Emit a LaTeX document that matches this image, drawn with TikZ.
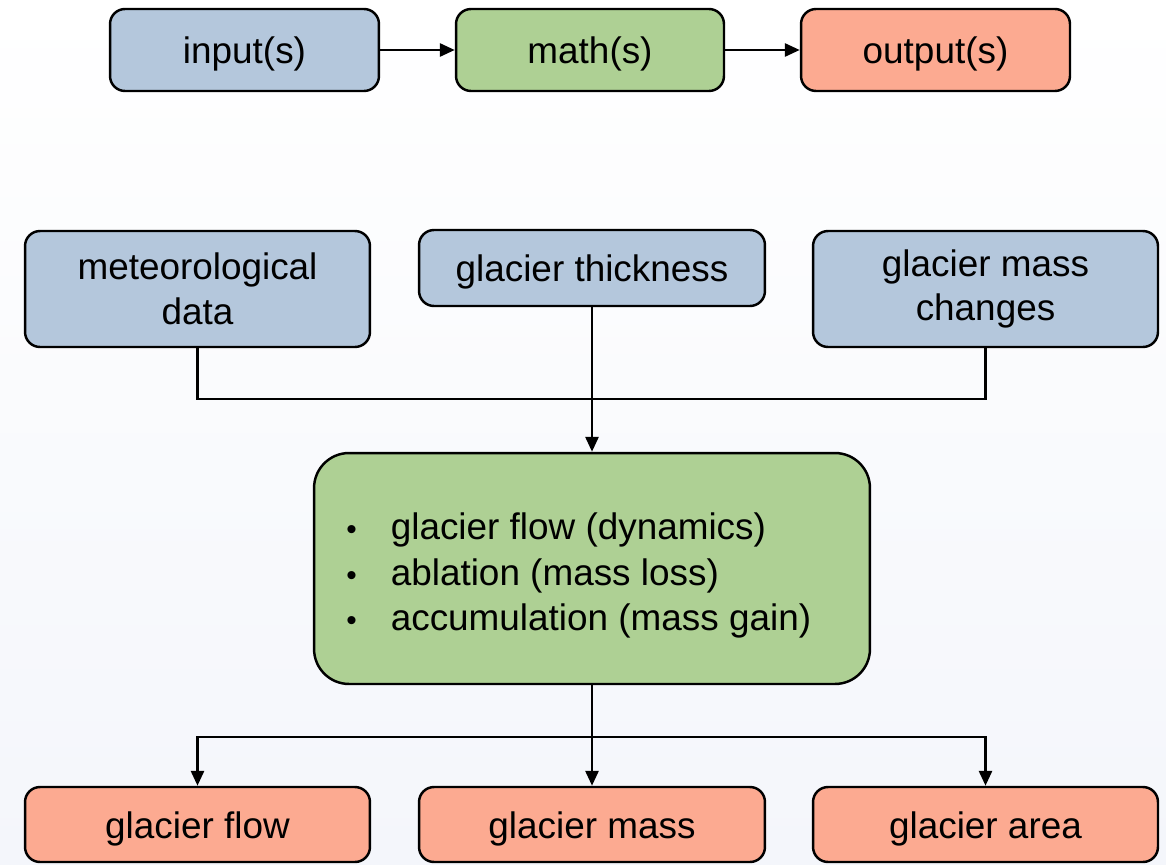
\documentclass[tikz,border=0pt]{standalone}
\usepackage{fontspec}
\setmainfont{Liberation Sans}
\usetikzlibrary{arrows.meta}
\definecolor{boxblue}{RGB}{180,199,220}
\definecolor{boxgreen}{RGB}{174,208,148}
\definecolor{boxred}{RGB}{252,170,145}
\definecolor{bgbot}{RGB}{244,246,251}
\tikzset{
  box/.style={draw=black, line width=1.4pt, rounded corners=0.3cm,
    font=\fontsize{21}{25.5}\selectfont, inner sep=0pt},
  one/.style={text height=17.8pt, text depth=2.3pt},
  two/.style={align=center},
  inbox/.style={box, fill=boxblue},
  mathbox/.style={box, fill=boxgreen},
  outbox/.style={box, fill=boxred},
  conn/.style={line width=1.6pt},
  arr/.style={line width=1.6pt, -{Triangle[length=0.3cm,width=0.26cm]}},
}
\begin{document}
\begin{tikzpicture}[x=0.02cm,y=-0.02cm]
\useasboundingbox (0,0) rectangle (1166,865);
\fill[top color=white, bottom color=bgbot] (0,0) rectangle (1166,865);
% top legend
\node[inbox, one, minimum width=5.38cm, minimum height=1.64cm] (in) at (244.5,50) {input(s)};
\node[mathbox, one, minimum width=5.36cm, minimum height=1.64cm] (ma) at (590,50) {math(s)};
\node[outbox, one, minimum width=5.38cm, minimum height=1.64cm] (out) at (935.5,50) {output(s)};
\draw[arr] (in) -- (ma);
\draw[arr] (ma) -- (out);
% inputs
\node[inbox, two, minimum width=6.9cm, minimum height=2.32cm] (met) at (197.5,289) {meteorological\\data};
\node[inbox, one, minimum width=6.92cm, minimum height=1.52cm] (thick) at (592,268) {glacier thickness};
\node[inbox, two, minimum width=6.9cm, minimum height=2.32cm] (mass) at (985.5,289) {glacier mass\\changes};
% model
\node[mathbox, rounded corners=0.7cm, minimum width=11.12cm, minimum height=4.62cm] (model) at (592,568.5) {};
\node[anchor=west, align=left, inner sep=0pt, font=\fontsize{21}{26}\selectfont] (list) at (346,576)
{\begin{tabular}{@{}l@{\hspace{0.68cm}}l@{}}
{\fontsize{17}{26}\selectfont\textbullet} & glacier flow (dynamics)\\
{\fontsize{17}{26}\selectfont\textbullet} & ablation (mass loss)\\
{\fontsize{17}{26}\selectfont\textbullet} & accumulation (mass gain)
\end{tabular}};
% outputs
\node[outbox, one, minimum width=6.9cm, minimum height=1.5cm] (gf) at (197.5,824.5) {glacier flow};
\node[outbox, one, minimum width=6.92cm, minimum height=1.5cm] (gm) at (592,824.5) {glacier mass};
\node[outbox, one, minimum width=6.9cm, minimum height=1.5cm] (ga) at (985.5,824.5) {glacier area};
% connectors
\coordinate (tj) at (592,399);
\draw[conn] (met.south) |- (tj) -| (mass.south);
\draw[arr] (thick.south) -- (model.north);
\coordinate (bj) at (592,737);
\draw[arr] (model.south) -- (gm.north);
\draw[arr] (bj) -| (gf.north);
\draw[arr] (bj) -| (ga.north);
\end{tikzpicture}
\end{document}
